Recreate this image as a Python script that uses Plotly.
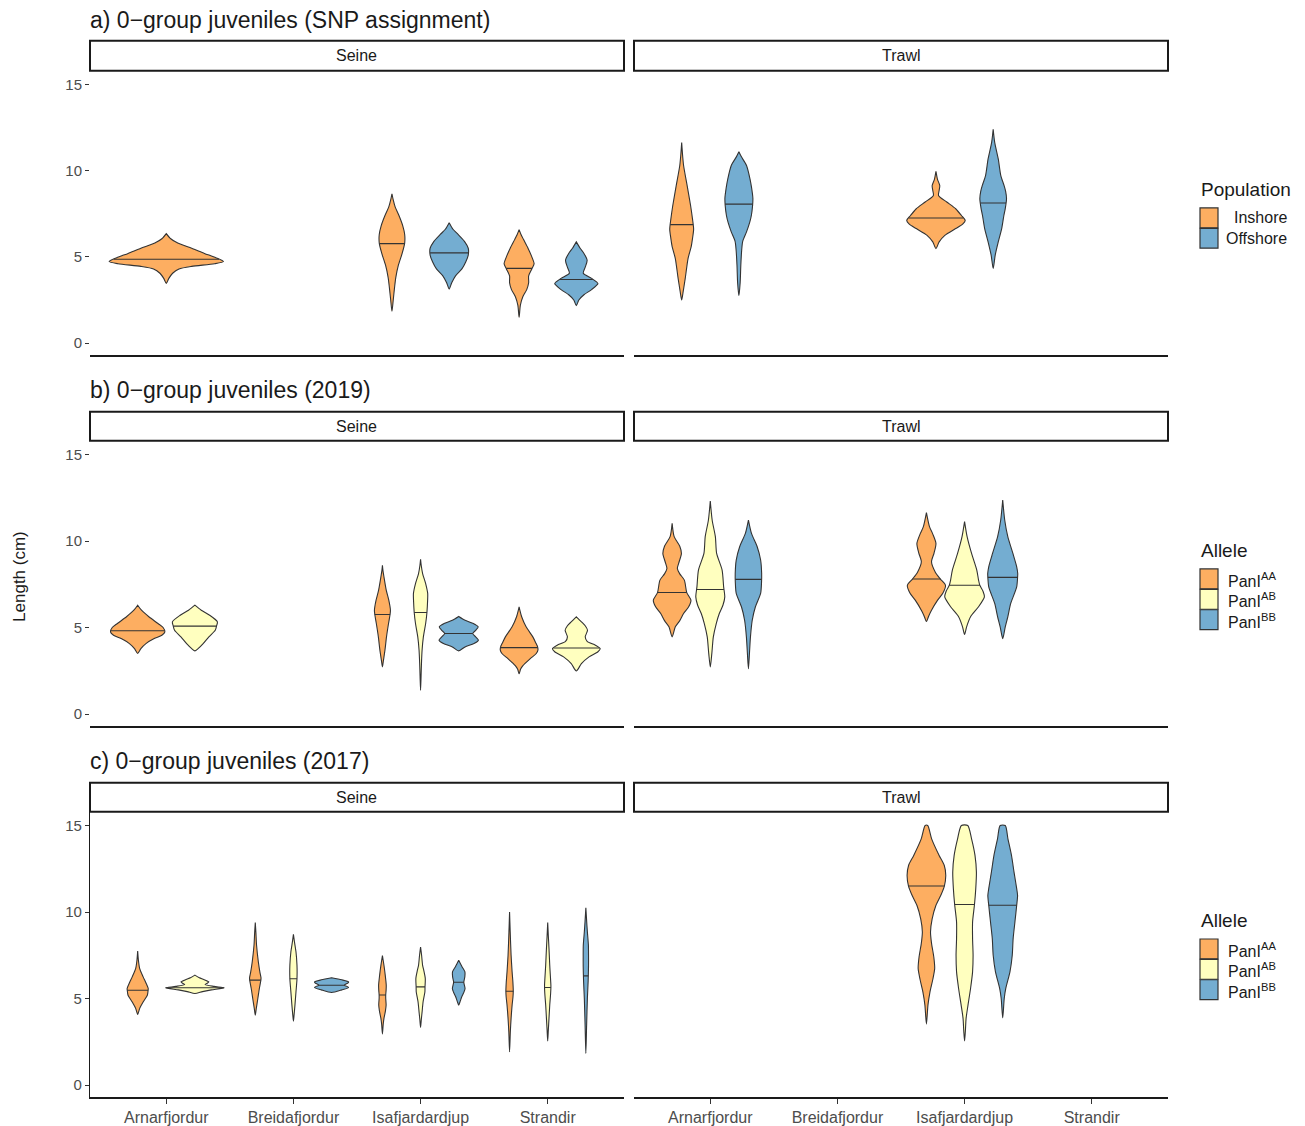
import numpy as np
import plotly.graph_objects as go

# ---------------- data ----------------
SITES = ["Arnarfjordur", "Breidafjordur", "Isafjardardjup", "Strandir"]
POP_GROUPS = ["Inshore", "Offshore"]
ALLELE_GROUPS = ["AA", "AB", "BB"]
ALLELE_LABELS = ["PanI<sup>AA</sup>", "PanI<sup>AB</sup>", "PanI<sup>BB</sup>"]
GEARS = ["Seine", "Trawl"]
ROW_TITLES = ["a) 0\u2212group juveniles (SNP assignment)",
              "b) 0\u2212group juveniles (2019)",
              "c) 0\u2212group juveniles (2017)"]
Y_TICKS = [0, 5, 10, 15]

COLORS = {"Inshore": "#FDAE61", "Offshore": "#74ADD1",
          "AA": "#FDAE61", "AB": "#FFFFBF", "BB": "#74ADD1"}

# each violin: (site, group, median, lengths (cm), density half-width (x units))
A_SEINE = [
    ("Arnarfjordur", "Inshore", 4.86,
     [3.46, 3.75, 4.05, 4.3, 4.45, 4.6, 4.73, 4.95, 5.2, 5.5, 5.8, 6.05, 6.35],
     [0, 0.02, 0.05, 0.1, 0.2, 0.38, 0.45, 0.39, 0.3, 0.2, 0.09, 0.035, 0]),
    ("Isafjardardjup", "Inshore", 5.77,
     [1.85, 2.5, 3.2, 3.8, 4.5, 5.2, 5.8, 6.3, 6.8, 7.4, 7.9, 8.3, 8.66],
     [0, 0.01, 0.02, 0.03, 0.05, 0.08, 0.1, 0.1, 0.085, 0.055, 0.025, 0.01, 0]),
    ("Isafjardardjup", "Offshore", 5.23,
     [3.13, 3.5, 3.9, 4.3, 4.7, 5.1, 5.5, 5.9, 6.3, 6.6, 6.98],
     [0, 0.02, 0.05, 0.1, 0.13, 0.15, 0.15, 0.12, 0.07, 0.03, 0]),
    ("Strandir", "Inshore", 4.33,
     [1.5, 2.2, 2.7, 3.1, 3.5, 3.9, 4.3, 4.6, 5.0, 5.5, 6.0, 6.3, 6.58],
     [0, 0.01, 0.03, 0.06, 0.075, 0.075, 0.1, 0.118, 0.1, 0.07, 0.035, 0.015, 0]),
    ("Strandir", "Offshore", 3.69,
     [2.17, 2.5, 2.8, 3.1, 3.45, 3.75, 4.05, 4.4, 4.8, 5.2, 5.5, 5.87],
     [0, 0.02, 0.06, 0.12, 0.17, 0.12, 0.055, 0.07, 0.085, 0.06, 0.03, 0]),
]
A_TRAWL = [
    ("Arnarfjordur", "Inshore", 6.87,
     [2.5, 3.0, 3.75, 4.9, 5.6, 6.06, 6.6, 7.2, 7.98, 9.13, 10.3, 11.0, 11.63],
     [0, 0.012, 0.028, 0.05, 0.075, 0.085, 0.094, 0.085, 0.07, 0.043, 0.015, 0.006, 0]),
    ("Arnarfjordur", "Offshore", 8.06,
     [2.75, 3.5, 4.5, 5.4, 5.9, 6.45, 7.0, 7.4, 8.0, 8.4, 9.0, 9.5, 10.3, 10.8, 11.1],
     [0, 0.01, 0.015, 0.022, 0.03, 0.06, 0.085, 0.098, 0.108, 0.11, 0.1, 0.088, 0.06, 0.02, 0]),
    ("Isafjardardjup", "Inshore", 7.25,
     [5.48, 5.87, 6.25, 6.64, 6.9, 7.11, 7.4, 7.79, 8.18, 8.56, 8.85, 9.13, 9.5, 9.96],
     [0, 0.025, 0.07, 0.155, 0.21, 0.23, 0.2, 0.155, 0.085, 0.02, 0.025, 0.03, 0.012, 0]),
    ("Isafjardardjup", "Offshore", 8.12,
     [4.33, 5.1, 5.87, 6.64, 7.4, 7.8, 8.37, 8.8, 9.13, 9.71, 10.68, 11.64, 12.4],
     [0, 0.016, 0.04, 0.067, 0.084, 0.095, 0.105, 0.098, 0.086, 0.06, 0.04, 0.012, 0]),
]
B_SEINE = [
    ("Arnarfjordur", "AA", 4.81,
     [3.5, 3.78, 4.07, 4.36, 4.55, 4.75, 5.0, 5.23, 5.62, 6.0, 6.29],
     [0, 0.025, 0.065, 0.13, 0.19, 0.214, 0.2, 0.16, 0.088, 0.03, 0]),
    ("Arnarfjordur", "AB", 5.08,
     [3.65, 3.78, 4.07, 4.46, 4.84, 5.08, 5.33, 5.71, 6.0, 6.29],
     [0, 0.025, 0.065, 0.11, 0.16, 0.17, 0.177, 0.116, 0.05, 0]),
    ("Isafjardardjup", "AA", 5.75,
     [2.72, 3.1, 3.69, 4.46, 5.23, 5.75, 6.0, 6.58, 7.16, 7.93, 8.3, 8.6],
     [0, 0.008, 0.02, 0.032, 0.048, 0.06, 0.063, 0.05, 0.03, 0.012, 0.004, 0]),
    ("Isafjardardjup", "AB", 5.87,
     [1.37, 2.2, 2.91, 3.7, 4.46, 5.23, 5.87, 6.5, 6.97, 7.54, 8.12, 8.6, 8.94],
     [0, 0.004, 0.007, 0.012, 0.022, 0.04, 0.05, 0.055, 0.056, 0.04, 0.016, 0.005, 0]),
    ("Isafjardardjup", "BB", 4.65,
     [3.65, 3.88, 4.07, 4.27, 4.45, 4.65, 4.85, 5.04, 5.25, 5.42, 5.64],
     [0, 0.05, 0.12, 0.155, 0.135, 0.11, 0.135, 0.153, 0.11, 0.05, 0]),
    ("Strandir", "AA", 3.84,
     [2.33, 2.6, 2.8, 3.2, 3.5, 3.69, 3.9, 4.07, 4.46, 5.04, 5.62, 6.0, 6.2],
     [0, 0.012, 0.03, 0.088, 0.135, 0.148, 0.145, 0.134, 0.108, 0.055, 0.02, 0.006, 0]),
    ("Strandir", "AB", 3.82,
     [2.49, 2.91, 3.3, 3.6, 3.78, 3.98, 4.2, 4.46, 4.84, 5.1, 5.33, 5.62],
     [0, 0.04, 0.1, 0.17, 0.188, 0.15, 0.085, 0.07, 0.088, 0.07, 0.04, 0]),
]
B_TRAWL = [
    ("Arnarfjordur", "AA", 7.02,
     [4.46, 5.04, 5.4, 5.81, 6.2, 6.58, 7.02, 7.74, 8.1, 8.41, 8.8, 9.28, 9.7, 10.25, 11.02],
     [0, 0.025, 0.06, 0.09, 0.13, 0.148, 0.115, 0.096, 0.06, 0.041, 0.055, 0.073, 0.06, 0.016, 0]),
    ("Arnarfjordur", "AB", 7.2,
     [2.72, 3.49, 4.46, 5.23, 5.81, 6.3, 6.77, 7.35, 8.32, 9.28, 10.25, 11.2, 12.31],
     [0, 0.012, 0.024, 0.047, 0.071, 0.1, 0.114, 0.105, 0.093, 0.05, 0.04, 0.015, 0]),
    ("Arnarfjordur", "BB", 7.78,
     [2.62, 3.5, 4.46, 5.42, 6.2, 6.97, 7.6, 8.12, 8.9, 9.67, 10.44, 11.21],
     [0, 0.008, 0.016, 0.03, 0.055, 0.096, 0.103, 0.104, 0.096, 0.069, 0.024, 0]),
    ("Isafjardardjup", "AA", 7.8,
     [5.35, 5.7, 6.0, 6.58, 7.0, 7.44, 7.8, 8.2, 8.8, 9.3, 9.86, 10.4, 10.83, 11.64],
     [0, 0.02, 0.04, 0.088, 0.13, 0.15, 0.11, 0.07, 0.04, 0.06, 0.075, 0.05, 0.024, 0]),
    ("Isafjardardjup", "AB", 7.44,
     [4.6, 5.04, 5.62, 6.2, 6.77, 7.1, 7.44, 7.74, 8.32, 9.28, 10.25, 11.12],
     [0, 0.016, 0.047, 0.11, 0.156, 0.145, 0.12, 0.11, 0.096, 0.055, 0.02, 0]),
    ("Isafjardardjup", "BB", 7.9,
     [4.36, 5.04, 5.62, 6.39, 7.35, 7.9, 8.12, 8.51, 9.28, 10.25, 11.2, 12.37],
     [0, 0.02, 0.04, 0.063, 0.11, 0.117, 0.118, 0.11, 0.08, 0.04, 0.016, 0]),
]
C_SEINE = [
    ("Arnarfjordur", "AA", 5.48,
     [4.08, 4.43, 4.81, 5.19, 5.48, 5.58, 5.87, 6.25, 6.73, 7.2, 7.75],
     [0, 0.016, 0.044, 0.076, 0.082, 0.083, 0.067, 0.043, 0.016, 0.006, 0]),
    ("Arnarfjordur", "AB", 5.62,
     [5.29, 5.4, 5.5, 5.62, 5.7, 5.81, 5.9, 5.96, 6.1, 6.2, 6.35],
     [0, 0.06, 0.13, 0.23, 0.15, 0.08, 0.1, 0.11, 0.07, 0.035, 0]),
    ("Breidafjordur", "AA", 6.06,
     [4.04, 4.43, 5.0, 5.58, 6.06, 6.2, 6.54, 7.12, 8.08, 8.8, 9.39],
     [0, 0.008, 0.02, 0.032, 0.044, 0.045, 0.036, 0.024, 0.01, 0.005, 0]),
    ("Breidafjordur", "AB", 6.14,
     [3.69, 4.04, 4.62, 5.38, 6.14, 6.92, 7.7, 8.27, 8.71],
     [0, 0.005, 0.012, 0.02, 0.028, 0.028, 0.02, 0.008, 0]),
    ("Breidafjordur", "BB", 5.77,
     [5.35, 5.5, 5.64, 5.77, 5.9, 5.96, 6.08, 6.2],
     [0, 0.08, 0.134, 0.1, 0.13, 0.134, 0.08, 0]),
    ("Isafjardardjup", "AA", 5.2,
     [2.95, 3.5, 3.85, 4.3, 4.62, 5.0, 5.2, 5.5, 5.77, 6.35, 6.92, 7.48],
     [0, 0.006, 0.012, 0.024, 0.029, 0.026, 0.026, 0.029, 0.03, 0.022, 0.012, 0]),
    ("Isafjardardjup", "AB", 5.67,
     [3.33, 3.8, 4.23, 4.81, 5.38, 5.67, 6.16, 6.6, 6.92, 7.5, 7.98],
     [0, 0.006, 0.012, 0.02, 0.034, 0.035, 0.037, 0.026, 0.016, 0.008, 0]),
    ("Isafjardardjup", "BB", 5.94,
     [4.62, 4.85, 5.1, 5.35, 5.58, 5.94, 6.25, 6.54, 6.85, 7.21],
     [0, 0.012, 0.024, 0.04, 0.05, 0.04, 0.048, 0.049, 0.025, 0]),
    ("Strandir", "AA", 5.42,
     [1.92, 3.08, 3.85, 4.62, 5.1, 5.42, 5.96, 6.54, 7.5, 8.85, 10.0],
     [0, 0.006, 0.012, 0.02, 0.027, 0.029, 0.026, 0.02, 0.012, 0.005, 0]),
    ("Strandir", "AB", 5.64,
     [2.54, 3.2, 3.85, 4.62, 5.3, 5.64, 5.77, 6.3, 6.92, 7.89, 8.6, 9.39],
     [0, 0.005, 0.01, 0.016, 0.023, 0.025, 0.025, 0.021, 0.016, 0.01, 0.005, 0]),
    ("Strandir", "BB", 6.31,
     [1.83, 3.46, 5.0, 6.0, 6.9, 7.5, 8.1, 8.85, 9.5, 10.24],
     [0, 0.006, 0.012, 0.018, 0.021, 0.021, 0.02, 0.012, 0.006, 0]),
]
C_TRAWL = [
    ("Isafjardardjup", "AA", 11.5,
     [3.52, 4.62, 5.38, 6.1, 6.73, 7.4, 8.2, 8.85, 9.6, 10.39, 11.0, 11.5, 12.12, 12.7, 13.27, 14.23, 15.0],
     [0, 0.012, 0.028, 0.05, 0.065, 0.058, 0.04, 0.032, 0.045, 0.075, 0.115, 0.141, 0.152, 0.14, 0.1, 0.041, 0.01]),
    ("Isafjardardjup", "AB", 10.43,
     [2.54, 3.08, 3.85, 4.62, 5.58, 6.54, 7.5, 8.46, 9.42, 10.43, 11.35, 12.31, 13.27, 14.23, 15.0],
     [0, 0.006, 0.012, 0.027, 0.047, 0.063, 0.067, 0.063, 0.063, 0.078, 0.088, 0.093, 0.082, 0.055, 0.025]),
    ("Isafjardardjup", "BB", 10.39,
     [3.88, 5.0, 5.58, 6.54, 7.5, 8.46, 9.42, 10.39, 10.96, 11.35, 12.31, 13.27, 14.23, 15.0],
     [0, 0.012, 0.024, 0.057, 0.075, 0.082, 0.096, 0.11, 0.117, 0.11, 0.089, 0.069, 0.041, 0.02]),
]
PANELS = [[A_SEINE, A_TRAWL], [B_SEINE, B_TRAWL], [C_SEINE, C_TRAWL]]
ROW_GROUPS = [POP_GROUPS, ALLELE_GROUPS, ALLELE_GROUPS]

# ---------------- layout geometry (screen pixels of the target) ----------------
W, H = 1305, 1126
OFF = 8                     # default page margin of the html body
FW, FH = W - OFF, H - OFF   # figure size so that it fills the window
FONT = "Liberation Sans, Arial, Helvetica, sans-serif"
COLS = [(90, 624), (634, 1168)]
ROWS = [(71, 357), (443, 730), (816, 1103)]
STRIPS = [(41, 71), (414, 443), (787, 816)]
TITLE_Y = [20, 392, 765]
OUTLINE = "#333333"


def xp(px):
    return (px - OFF) / FW


def yp(py):
    return 1 - (py - OFF) / FH


fig = go.Figure()
layout = dict(width=FW, height=FH, margin=dict(l=0, r=0, t=0, b=0),
              paper_bgcolor="white", plot_bgcolor="white", showlegend=False,
              font=dict(family=FONT, color="#1a1a1a"))
shapes, annotations = [], []

for r in range(3):
    for c in range(2):
        idx = r * 2 + c + 1
        xa = "xaxis" if idx == 1 else f"xaxis{idx}"
        ya = "yaxis" if idx == 1 else f"yaxis{idx}"
        xref = "x" if idx == 1 else f"x{idx}"
        yref = "y" if idx == 1 else f"y{idx}"
        bottom_row = (r == 2)
        layout[xa] = dict(
            domain=[xp(COLS[c][0]), xp(COLS[c][1])], anchor=yref,
            range=[0.4, 4.6], showgrid=False, zeroline=False,
            showline=True, linecolor="#1a1a1a", linewidth=1.8,
            tickvals=[1, 2, 3, 4], ticktext=SITES,
            showticklabels=bottom_row, ticks="outside" if bottom_row else "",
            ticklen=5, tickwidth=1.2, tickcolor="#333333",
            tickfont=dict(size=16, color="#4d4d4d", family=FONT))
        layout[ya] = dict(
            domain=[yp(ROWS[r][1]), yp(ROWS[r][0])], anchor=xref,
            range=[-0.7, 15.8], showgrid=False, zeroline=False,
            showline=(c == 0 and r == 2), linecolor="#1a1a1a", linewidth=1.2,
            tickvals=Y_TICKS, showticklabels=(c == 0),
            ticks="outside" if c == 0 else "", ticklen=4, tickwidth=1.2,
            tickcolor="#333333",
            tickfont=dict(size=15, color="#4d4d4d", family=FONT))

        # violins
        data = PANELS[r][c]
        groups = ROW_GROUPS[r]
        for site, grp, med, ys, hw in data:
            present = [g for g in groups
                       if any(d[0] == site and d[1] == g for d in data)]
            n = len(present)
            k = present.index(grp)
            slot = 0.9 / n
            center = SITES.index(site) + 1 - 0.45 + slot * (k + 0.5)
            ys_a = np.array(ys, dtype=float)
            hw_a = np.array(hw, dtype=float)
            right_x = center + hw_a
            left_x = (center - hw_a)[::-1]
            xs = list(right_x) + list(left_x)
            yy = list(ys_a) + list(ys_a[::-1])
            fig.add_trace(go.Scatter(
                x=xs, y=yy, xaxis=xref, yaxis=yref, mode="lines",
                line=dict(color=OUTLINE, width=1.1, shape="spline", smoothing=0.7),
                fill="toself", fillcolor=COLORS[grp], hoverinfo="skip",
                name=f"{site} {grp}"))
            wm = float(np.interp(med, ys_a, hw_a))
            fig.add_trace(go.Scatter(
                x=[center - wm, center + wm], y=[med, med], xaxis=xref, yaxis=yref,
                mode="lines", line=dict(color=OUTLINE, width=1.1),
                hoverinfo="skip", name=f"{site} {grp} median"))

        # strip
        shapes.append(dict(type="rect", xref="paper", yref="paper",
                           x0=xp(COLS[c][0]), x1=xp(COLS[c][1]),
                           y0=yp(STRIPS[r][1]), y1=yp(STRIPS[r][0]),
                           line=dict(color="#1a1a1a", width=2), fillcolor="white"))
        annotations.append(dict(xref="paper", yref="paper",
                                x=xp((COLS[c][0] + COLS[c][1]) / 2),
                                y=yp((STRIPS[r][0] + STRIPS[r][1]) / 2),
                                text=GEARS[c], showarrow=False,
                                font=dict(size=16, color="#1a1a1a", family=FONT),
                                xanchor="center", yanchor="middle"))
    annotations.append(dict(xref="paper", yref="paper", x=xp(88), y=yp(TITLE_Y[r]),
                            text=ROW_TITLES[r], showarrow=False, xanchor="left",
                            yanchor="middle",
                            font=dict(size=23, color="#1a1a1a", family=FONT)))

# y-axis title
annotations.append(dict(xref="paper", yref="paper", x=xp(20), y=yp(580),
                        text="Length (cm)", textangle=-90, showarrow=False,
                        xanchor="center", yanchor="middle",
                        font=dict(size=17, color="#1a1a1a", family=FONT)))


# legends
def legend(title, title_y, key_top, labels, keys, right_align):
    annotations.append(dict(xref="paper", yref="paper", x=xp(1199), y=yp(title_y),
                            text=title, showarrow=False, xanchor="left",
                            yanchor="middle",
                            font=dict(size=19, color="#1a1a1a", family=FONT)))
    for i, (lab, key) in enumerate(zip(labels, keys)):
        t0 = key_top + i * 20.5
        shapes.append(dict(type="rect", xref="paper", yref="paper",
                           x0=xp(1200), x1=xp(1218), y0=yp(t0 + 20), y1=yp(t0),
                           line=dict(color=OUTLINE, width=1.2),
                           fillcolor=COLORS[key]))
        if right_align:
            annotations.append(dict(xref="paper", yref="paper", x=xp(1289),
                                    y=yp(t0 + 10), text=lab, showarrow=False,
                                    xanchor="right", yanchor="middle",
                                    font=dict(size=16, color="#1a1a1a", family=FONT)))
        else:
            annotations.append(dict(xref="paper", yref="paper", x=xp(1226),
                                    y=yp(t0 + 11), text=lab, showarrow=False,
                                    xanchor="left", yanchor="middle",
                                    font=dict(size=16, color="#1a1a1a", family=FONT)))


legend("Population", 190, 209, POP_GROUPS, POP_GROUPS, True)
legend("Allele", 553, 572, ALLELE_LABELS, ALLELE_GROUPS, False)
legend("Allele", 925, 944, ALLELE_LABELS, ALLELE_GROUPS, False)

layout["shapes"] = shapes
layout["annotations"] = annotations
fig.update_layout(**layout)
fig.write_html("out.html")
